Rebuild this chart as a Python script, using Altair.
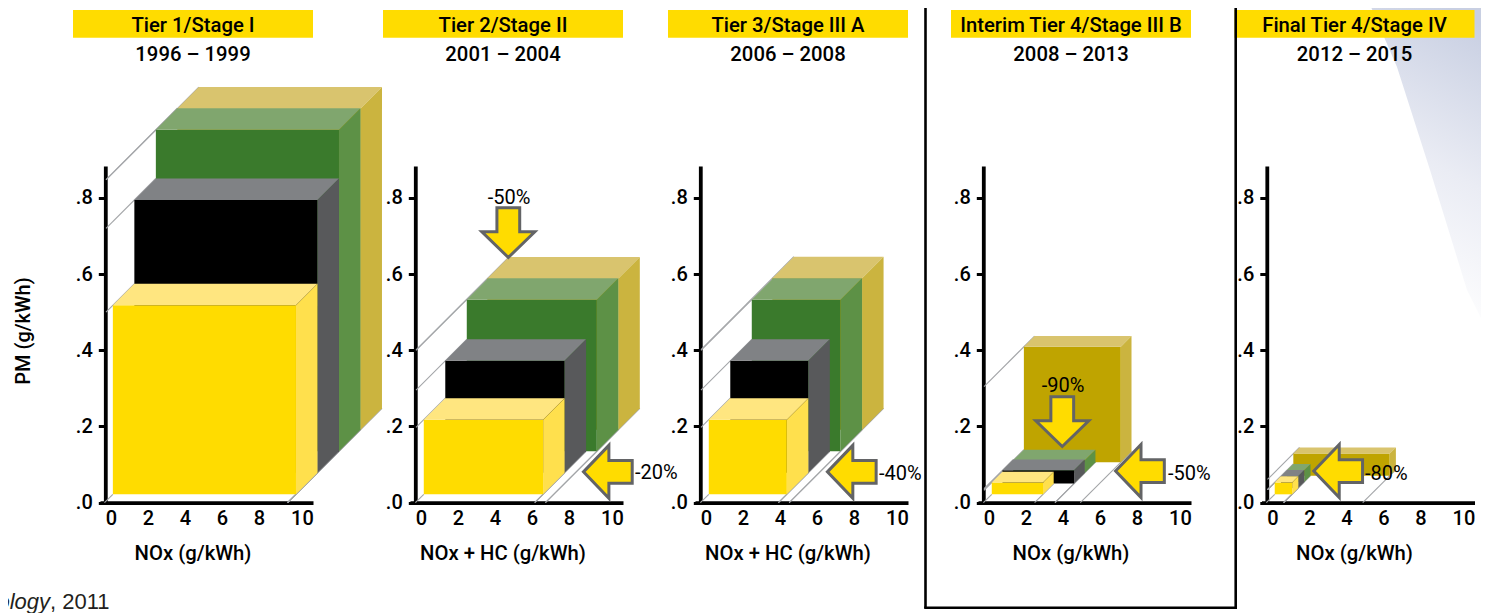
import altair as alt
import pandas as pd

# ---------- values ----------
TITLES = ["Tier 1/Stage I", "Tier 2/Stage II", "Tier 3/Stage III A", "Interim Tier 4/Stage III B", "Final Tier 4/Stage IV"]
PERIODS = ["1996 – 1999", "2001 – 2004", "2006 – 2008", "2008 – 2013", "2012 – 2015"]
XLABELS = ["NOx (g/kWh)", "NOx + HC (g/kWh)", "NOx + HC (g/kWh)", "NOx (g/kWh)", "NOx (g/kWh)"]
# order of boxes: front (yellow), black, green, olive
X0 = [[.1, .1, .1, .1], [.15, .15, .15, .1], [.15, .15, .15, .1], [.15, .15, .15, .15], [.12, .12, .12, .12]]
X1 = [[10, 10, 10, 10], [6.6, 6.6, 7.18, 7.18], [4.37, 4.37, 4.95, 4.95], [2.92, 4.02, 4.02, 5.39], [1.06, 1.05, 1.05, 5.33]]
PM0 = [.022, .022, .022, .022]
PM1 = [[.518, .738, .866, .865], [.218, .316, .42, .419], [.218, .316, .42, .42], [.053, .057, .055, .325], [.053, .053, .053, .08]]
# arrows: panel, direction, NOx, PM
ARROWS = [(1, "down", 4.72, .709), (1, "left", 10.1, .081), (2, "left", 7.88, .081),
          (3, "down", 3.96, .213), (3, "left", 8.16, .083), (4, "left", 3.55, .083)]
PCT = [(1, "-50%", 509, 198, "center"), (1, "-20%", 635, 473, "left"), (2, "-40%", 879, 474, "left"),
       (3, "-90%", 1063, 386, "center"), (3, "-50%", 1168, 474, "left"), (4, "-80%", 1365, 474, "left")]
XTICKS = [0, 2, 4, 6, 8, 10]
YTICKS = [0, .2, .4, .6, .8]

# ---------- layout and style ----------
SHIFT = [0, 310, 595, 878, 1161.5]
DEPTH_PX = [21.5, 21.5, 21.5, 10.7, 6.2]
PX_NOX, PX_PM = 18.5, 381.0
M = 8
W, H = 1473, 605
FONT = "Roboto"
FRONT = ["#FFDC00", "#000000", "#3A7A2C", "#BFA400"]
TOP = ["#FFE680", "#808285", "#80A66E", "#D9C46E"]
SIDE = ["#FFE04D", "#58595B", "#5D9146", "#CBB43F"]
GRID = "#A3A5A8"
DOWN = "M-.43,-.94L.43,-.94L.43,-.03L1,-.03L0,.94L-1,-.03L-.43,-.03Z"
LEFT = "M-.92,0L.04,-1L.04,-.43L.92,-.43L.92,.43L.04,.43L.04,1Z"
YSCALE = alt.Scale(domain=[0, .8837], range=[494.7, 158], nice=False, zero=False)

raw = lambda f: alt.X(f, scale=None, axis=None)
rawy = lambda f: alt.Y(f, scale=None, axis=None)


def xscale(p):
    return alt.Scale(domain=[-.595, 10.92], range=[100 - M + SHIFT[p], 313 - M + SHIFT[p]], nice=False, zero=False)


def X(p, f="x:Q"):
    return alt.X(f, scale=xscale(p), axis=None)


def Y(f="y:Q"):
    return alt.Y(f, scale=YSCALE, axis=None)


layers = []

# background swoosh
swoosh = pd.DataFrame({"x": [1368 - M, 1397 - M, 1430 - M, 1467 - M, 1481 - M],
                       "y": [-M, 67 - M, 170 - M, 290 - M, 318 - M], "top": [-M] * 5})
layers.append(alt.Chart(swoosh).mark_area(
    color=alt.Gradient(gradient="linear", x1=.42, y1=1, x2=.62, y2=0,
                       stops=[alt.GradientStop(offset=.04, color="#FFFFFF"),
                              alt.GradientStop(offset=.5, color="#EAECF4"),
                              alt.GradientStop(offset=1, color="#C8CFE2")])
).encode(x=raw("x:Q"), y=rawy("y:Q"), y2="top:Q"))

# header bands and texts
head = pd.DataFrame({"title": TITLES, "period": PERIODS, "xlabel": XLABELS,
                     "x0": [73 - M + s for s in SHIFT], "x1": [313 - M + s for s in SHIFT],
                     "cx": [193 - M + s for s in SHIFT]})
head["yt"], head["yb"] = 10 - M, 37.7 - M
layers.append(alt.Chart(head).mark_rect(color="#FFDC00").encode(x=raw("x0:Q"), x2="x1:Q", y=rawy("yt:Q"), y2="yb:Q"))
for field, py in [("title", 26), ("period", 55), ("xlabel", 554)]:
    head["py"] = py - M
    layers.append(alt.Chart(head.copy()).mark_text(font=FONT, fontSize=20.3, fontWeight=500, color="#000000", baseline="middle")
                  .encode(x=raw("cx:Q"), y=rawy("py:Q"), text=f"{field}:N"))

for p in range(5):
    dx, dy = DEPTH_PX[p] / PX_NOX, DEPTH_PX[p] / PX_PM
    lines = []
    xaxis_val = -.27
    for d in range(4):
        x0, x1, y0, y1 = X0[p][d], X1[p][d], PM0[d], PM1[p][d]
        t0 = (xaxis_val - x0) / dx
        lines += [(f"l{d}", x0 + dx * t0, y1 + dy * t0), (f"l{d}", x0 + dx * (d + 1), y1 + dy * (d + 1))]
        t1 = -y0 / dy
        lines += [(f"r{d}", x1 + dx * t1, 0), (f"r{d}", x1 + dx * (d + 1), y0 + dy * (d + 1))]
    t1 = -PM0[0] / dy
    lines += [("o", X0[p][0] + dx * t1, 0), ("o", X0[p][0], PM0[0])]
    ldf = pd.DataFrame(lines, columns=["id", "x", "y"])
    layers.append(alt.Chart(ldf).mark_line(color=GRID, strokeWidth=1.1).encode(
        x=alt.X("x:Q", scale=xscale(p), axis=alt.Axis(
            orient="bottom", offset=-(H - 494.7), values=XTICKS, format="d", title=None, grid=False, ticks=False,
            domainColor="#000000", domainWidth=3.8, labelFont=FONT, labelFontSize=20, labelFontWeight=500,
            labelColor="#000000", labelPadding=6,
            labelOffset={"condition": {"test": "datum.value == 10", "value": 6}, "value": 0})),
        y=alt.Y("y:Q", scale=YSCALE, axis=alt.Axis(
            orient="left", offset=-(105.3 - M + SHIFT[p]), values=YTICKS, title=None, grid=False,
            labelExpr="replace(format(datum.value,'.1f'),'0.','.')",
            domainColor="#000000", domainWidth=3.8, tickColor="#000000", tickWidth=3, tickSize=7,
            labelFont=FONT, labelFontSize=20, labelFontWeight=500, labelColor="#000000", labelPadding=6)),
        detail="id:N"))

    for d in [3, 2, 1, 0]:
        x0 = X0[p][d] + dx * d
        x1 = X1[p][d] + dx * d
        y0 = PM0[d] + dy * d
        y1 = PM1[p][d] + dy * d
        front = pd.DataFrame({"x": [x0], "xe": [x1], "y": [y0], "ye": [y1]})
        layers.append(alt.Chart(front).mark_rect(color=FRONT[d]).encode(x=X(p), x2="xe:Q", y=Y(), y2="ye:Q"))
        top = pd.DataFrame({"x": [x0, x0 + dx, x1, x1 + dx], "y": [y1, y1, y1, y1 + dy],
                            "ye": [y1, y1 + dy, y1 + dy, y1 + dy]})
        layers.append(alt.Chart(top).mark_area(color=TOP[d]).encode(x=X(p), y=Y(), y2="ye:Q"))
        side = pd.DataFrame({"x": [x1, x1 + dx], "y": [y0, y0 + dy], "ye": [y1, y1 + dy]})
        layers.append(alt.Chart(side).mark_area(color=SIDE[d]).encode(x=X(p), y=Y(), y2="ye:Q"))

    for ap, kind, ax, ay in ARROWS:
        if ap == p:
            adf = pd.DataFrame({"x": [ax], "y": [ay]})
            layers.append(alt.Chart(adf).mark_point(
                shape=DOWN if kind == "down" else LEFT, size=2809, filled=True, fill="#FFDC00", stroke="#636466",
                strokeWidth=3, opacity=1, strokeOpacity=1, fillOpacity=1).encode(x=X(p), y=Y()))

for ap, txt, px, py, al in PCT:
    tdf = pd.DataFrame({"x": [px - M], "y": [py - M], "t": [txt]})
    layers.append(alt.Chart(tdf).mark_text(font=FONT, fontSize=20, color="#000000", align=al, baseline="middle")
                  .encode(x=raw("x:Q"), y=rawy("y:Q"), text="t:N"))

# y title
ydf = pd.DataFrame({"x": [24 - M], "y": [331 - M], "t": ["PM (g/kWh)"]})
layers.append(alt.Chart(ydf).mark_text(font=FONT, fontSize=20, fontWeight=500, color="#000000", angle=270, baseline="middle")
              .encode(x=raw("x:Q"), y=rawy("y:Q"), text="t:N"))

# frame round the interim panel
for a in [925.5, 1235.7]:
    fd = pd.DataFrame({"x": [a - M], "y": [-M], "ye": [608 - M]})
    layers.append(alt.Chart(fd).mark_rule(color="#000000", strokeWidth=2.6).encode(x=raw("x:Q"), y=rawy("y:Q"), y2="ye:Q"))
fd = pd.DataFrame({"x": [924.2 - M], "xe": [1237 - M], "y": [607.7 - M]})
layers.append(alt.Chart(fd).mark_rule(color="#000000", strokeWidth=2.6).encode(x=raw("x:Q"), x2="xe:Q", y=rawy("y:Q")))

# source line, cut by the left edge
src = pd.DataFrame({"x": [50 - M, 50 - M], "y": [609 - M, 609 - M], "t": ["Technology", ", 2011"],
                    "a": ["right", "left"]})
layers.append(alt.Chart(src[src.a == "right"]).mark_text(font="Liberation Sans", fontSize=22, fontStyle="italic", align="right",
                                                        baseline="alphabetic", color="#231F20")
              .encode(x=raw("x:Q"), y=rawy("y:Q"), text="t:N"))
layers.append(alt.Chart(src[src.a == "left"]).mark_text(font="Liberation Sans", fontSize=22, align="left",
                                                       baseline="alphabetic", color="#231F20")
              .encode(x=raw("x:Q"), y=rawy("y:Q"), text="t:N"))

chart = alt.layer(*layers).resolve_scale(x="independent", y="independent").properties(
    width=W, height=H, padding=0, autosize=alt.AutoSizeParams(type="none")
).configure_view(stroke=None)

chart.save("out.html", embed_options={"renderer": "svg", "actions": False})
